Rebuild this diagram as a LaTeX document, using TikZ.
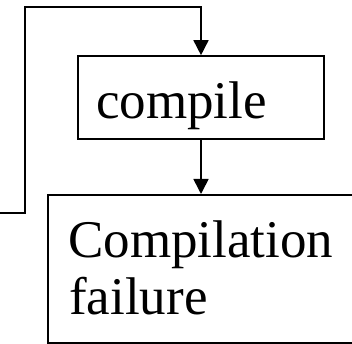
\documentclass[tikz,border=0pt]{standalone}
\usepackage{fontspec}
\setmainfont{Liberation Serif}
\usetikzlibrary{arrows.meta}
\begin{document}
\begin{tikzpicture}[x=1pt,y=1pt,
  box/.style={draw=black, line width=1.6pt, rectangle, inner sep=0pt},
  flow/.style={draw=black, line width=1.6pt, -{Triangle[width=15pt,length=15pt]}},
  label/.style={anchor=base west, inner sep=0pt, font=\fontsize{53}{59}\selectfont}]
  \useasboundingbox (0,0) rectangle (352,344);
  \clip (0,0) rectangle (352,344);
  % process boxes
  \node[box, minimum width=246pt, minimum height=83pt] (cmp) at (201,246.5) {};
  \node[box, minimum width=320pt, minimum height=148.5pt, anchor=north west] (fail) at (47,150) {};
  % texts
  \node[label] (cmptext) at (96,225) {compile};
  \node[label] (failtext1) at (68,86) {Compilation};
  \node[label] (failtext2) at (69,29) {failure};
  % connectors
  \coordinate (loopstart) at (-2,131);
  \coordinate (looptop) at (25,337);
  \draw[flow] (loopstart) -| (looptop) -| (cmp.north);
  \draw[flow] (cmp.south) -- (cmp.south |- fail.north);
\end{tikzpicture}
\end{document}
